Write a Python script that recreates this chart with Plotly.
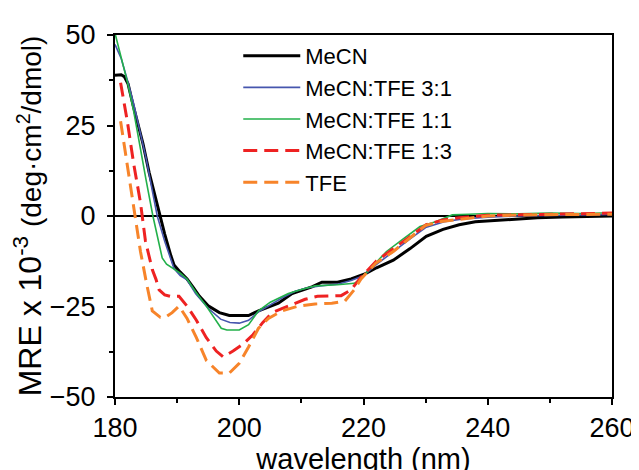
import plotly.graph_objects as go

# CD spectra, values
x_mecn = [180, 181, 181.5, 182.1, 182.9, 183.6, 184.5, 185.5, 186.5, 187.3, 188, 189, 189.5, 190.5,
          191.6, 192.5, 193.6, 195, 196.8, 198.4, 200, 201.5, 203.1, 204.5, 206.3, 208.5, 210,
          211.7, 213.3, 215.8, 218, 220.1, 222.1, 224.8, 227.5, 230.1, 232.8, 235.4, 238, 241,
          244, 248, 252, 256, 260]
y_mecn = [38.9, 39, 38.5, 36.5, 30.7, 26.2, 20, 12, 5, 0, -5, -11, -13.5, -15.5,
          -17.4, -19.5, -22.2, -24.8, -26.7, -27.5, -27.6, -27.5, -26.2, -25.2, -24.1, -21.4, -20.5,
          -19.6, -18.3, -18.3, -17.4, -16.1, -14.3, -12.2, -9, -5.6, -3.7, -2.4, -1.6, -1.3,
          -0.8, -0.5, -0.3, -0.2, 0]

x_31 = [180, 181, 182, 183, 184, 185, 186, 186.8, 188, 189.5, 190.5, 191.6, 193, 195, 197, 198.5,
        200, 201.5, 203.1, 205, 207, 209, 211, 213, 216, 218, 220, 222, 224.8, 227.5, 230, 233,
        236, 240, 245, 250, 255, 260]
y_31 = [47.4, 43.5, 37.5, 31, 23.5, 16, 7, 0, -7, -14.5, -16.5, -17.6, -21.5, -25.5, -28.5, -29.4,
        -29.6, -28.8, -26.5, -24.5, -22.5, -20.8, -19.8, -19.3, -18.8, -17.8, -16.5, -13.5, -9.8,
        -6.3, -3.2, -1.6, -0.8, -0.3, 0, 0.2, 0.3, 0.4]

x_11 = [180, 181, 182, 183, 184, 185, 186.1, 187, 187.6, 188.3, 189.2, 190.5, 191.6, 193, 194.7,
        196, 197.1, 198, 200, 201.5, 203.1, 205, 207.9, 210, 212.2, 215.8, 218.5, 219.5, 221.2,
        223.7, 226.4, 229.1, 231.6, 234.3, 237, 240, 245, 250, 255, 260]
y_11 = [50.5, 44, 37, 29, 19, 10, 0, -7, -11.6, -13.3, -14.3, -15.8, -17.4, -21, -24.9,
        -28.3, -31, -31.5, -31.5, -30, -26.2, -23.8, -21.4, -20.3, -19.3, -19, -18.6, -17.5, -14.3,
        -9.8, -6.3, -2.9, -1.6, 0.3, 0.5, 0.7, 0.6, 0.8, 0.7, 0.9]

x_13 = [180.9, 182, 183, 184.1, 184.9, 186, 186.6, 187.1, 188, 188.9, 190.3, 191.6, 193.1, 194.7,
        196.3, 197.4, 199, 200.6, 202.2, 203.8, 205.3, 207.9, 210.6, 212.6, 214.9, 216.4, 218,
        219.6, 222.1, 224.8, 227.5, 230.1, 232.8, 235.4, 240, 245, 250, 255, 260]
y_13 = [36.8, 26, 14.5, 3.7, -6.9, -14.8, -17.5, -20.4, -21.8, -22.2, -22.2, -24.9, -28.8, -33.6,
        -37.3, -38.9, -37.3, -35.4, -32.8, -29.4, -26.7, -24.9, -23, -22.2, -22.2, -22, -20.4,
        -16.9, -12.4, -9, -5.6, -2.4, -1.1, -0.5, 0.2, 0.4, 0.5, 0.6, 0.8]

x_tfe = [180.9, 182, 183, 184.1, 185.1, 186, 187.3, 188.1, 189.2, 190.3, 191.6, 193.1, 194.7,
         196.3, 196.8, 198.4, 200, 201.5, 203.1, 204.7, 206.9, 209.5, 212.2, 214.9, 217, 218.5,
         219.6, 222, 224.8, 227.5, 230, 232.5, 235, 240, 245, 250, 255, 260]
y_tfe = [26.2, 14, 2, -9.8, -18.8, -26.2, -28, -28, -26.7, -24.9, -28.3, -33.6, -39.9,
         -42.6, -43.4, -43.4, -40.7, -36.2, -31, -28.3, -26.2, -24.9, -24.3, -24.1, -23.5, -20.4,
         -17.4, -13, -9.8, -6, -2.6, -1.5, -1, 0, 0.3, 0.4, 0.4, 0.5]

fnt = "Liberation Sans, Arial, sans-serif"

fig = go.Figure()
fig.add_trace(go.Scatter(x=x_mecn, y=y_mecn, mode="lines", name="MeCN",
                         line=dict(color="black", width=3)))
fig.add_trace(go.Scatter(x=x_31, y=y_31, mode="lines", name="MeCN:TFE 3:1",
                         line=dict(color="#4656ae", width=1.6)))
fig.add_trace(go.Scatter(x=x_11, y=y_11, mode="lines", name="MeCN:TFE 1:1",
                         line=dict(color="#22b04a", width=1.6)))
fig.add_trace(go.Scatter(x=x_13, y=y_13, mode="lines", name="MeCN:TFE 1:3",
                         line=dict(color="#ee2222", width=3, dash="14px,7px")))
fig.add_trace(go.Scatter(x=x_tfe, y=y_tfe, mode="lines", name="TFE",
                         line=dict(color="#f7842a", width=3, dash="14px,7px")))

fig.update_layout(
    width=639, height=470,
    margin=dict(l=107, r=27, t=27, b=65),
    paper_bgcolor="white", plot_bgcolor="white",
    font=dict(family=fnt, size=26, color="black"),
    legend=dict(x=0.248, y=1.0, xanchor="left", yanchor="top",
                bgcolor="rgba(0,0,0,0)", font=dict(size=22), itemwidth=57,
                tracegroupgap=0),
)
fig.update_xaxes(
    range=[180, 260], dtick=20, tick0=180,
    ticks="outside", ticklen=6, tickwidth=2, tickcolor="black",
    minor=dict(dtick=10, ticks="outside", ticklen=4, tickwidth=2, tickcolor="black"),
    showline=True, linewidth=2, linecolor="black", mirror=True,
    showgrid=False, zeroline=False, tickfont=dict(size=27),
    title=dict(text="wavelength (nm)", font=dict(size=29), standoff=2),
)
fig.update_yaxes(
    range=[-50, 50], dtick=25, tick0=0,
    ticks="outside", ticklen=6, tickwidth=2, tickcolor="black",
    minor=dict(dtick=12.5, ticks="outside", ticklen=4, tickwidth=2, tickcolor="black"),
    showline=True, linewidth=2, linecolor="black", mirror=True,
    showgrid=False, zeroline=True, zerolinecolor="black", zerolinewidth=2,
    tickfont=dict(size=27), ticklabelstandoff=6,
    title=dict(text="MRE x 10<sup>-3</sup> <span style='font-size:28px'>(deg·cm<sup>2</sup>/dmol)</span>",
               font=dict(size=32), standoff=0),
)

fig.write_html("out.html")
